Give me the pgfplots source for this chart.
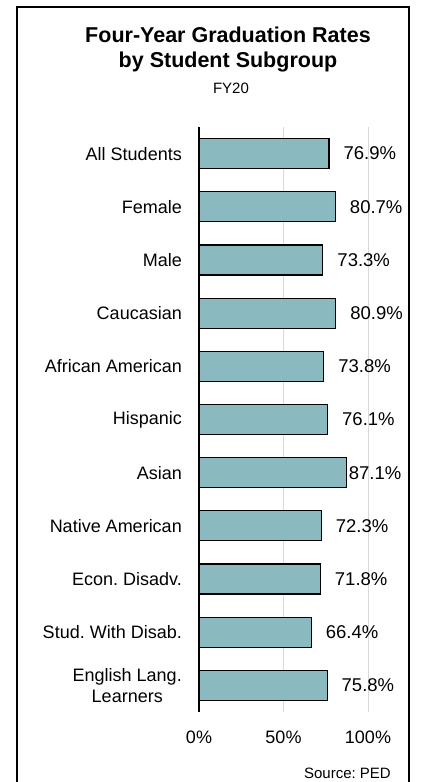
\documentclass[border=0pt]{standalone}
\usepackage{fontspec}
\setmainfont{Liberation Sans}
\usepackage{pgfplots}
\pgfplotsset{compat=1.18}
\definecolor{barfill}{RGB}{138,186,192}
\definecolor{gridgray}{RGB}{217,217,217}
\frenchspacing

\begin{document}
\begin{tikzpicture}
\useasboundingbox (0pt,0pt) rectangle (426pt,-782pt);
% frame
\draw[line width=1.4pt] (17pt,-800pt) -- (17pt,-7pt) -- (409pt,-7pt) -- (409pt,-800pt);
% titles
\node[anchor=base, font=\fontsize{21.5}{24}\selectfont\bfseries, inner sep=0pt] at (228pt,-42pt) {Four-Year Graduation Rates};
\node[anchor=base, font=\fontsize{21.5}{24}\selectfont\bfseries, inner sep=0pt] at (228pt,-67pt) {by Student Subgroup};
\node[anchor=base, font=\fontsize{15}{18}\selectfont, inner sep=0pt] at (231pt,-93pt) {FY20};
\node[anchor=base east, font=\fontsize{15}{18}\selectfont, inner sep=0pt] at (391pt,-778pt) {Source: PED};

\begin{axis}[
  at={(199pt,-712pt)}, anchor=south west,
  scale only axis,
  width=169pt, height=585pt,
  xmin=0, xmax=100,
  ymin=-0.5, ymax=10.5,
  xbar, bar width=30pt, bar shift=0pt,
  axis x line=bottom, axis y line=left,
  x axis line style={draw=none},
  y axis line style={-, line width=1.2pt, black},
  major tick length=0pt,
  xtick={0,50,100},
  xticklabels={0\%,50\%,100\%},
  xticklabel style={font=\fontsize{18}{20}\selectfont, inner sep=0pt, anchor=north, yshift=-19pt},
  xmajorgrids,
  grid style={gridgray, line width=1pt},
  ytick={0,1,2,3,4,5,6,7,8,9,10},
  yticklabels={{English Lang.\\Learners},Stud. With Disab.,Econ. Disadv.,Native American,Asian,Hispanic,African American,Caucasian,Male,Female,All Students},
  yticklabel style={font=\fontsize{18}{21}\selectfont, align=center, anchor=east, inner sep=0pt, xshift=-17pt},
  /pgf/number format/assume math mode=true,
  nodes near coords={\pgfmathprintnumber[fixed,fixed zerofill,precision=1]{\pgfplotspointmeta}\%},
  clip=false,
]
\addplot[
  fill=barfill, draw=black, line width=1.2pt,
  nodes near coords style={anchor=west, inner sep=0pt, xshift=14pt, font=\fontsize{18.5}{20}\selectfont, black},
] coordinates {
(76.9,10) (80.7,9) (73.3,8) (80.9,7) (73.8,6) (76.1,5)
(72.3,3) (71.8,2) (66.4,1) (75.8,0)
};
\addplot[
  fill=barfill, draw=black, line width=1.2pt,
  nodes near coords style={anchor=west, inner sep=0pt, xshift=2pt, font=\fontsize{18.5}{20}\selectfont, black},
] coordinates {(87.1,4)};
\end{axis}
\end{tikzpicture}
\end{document}
